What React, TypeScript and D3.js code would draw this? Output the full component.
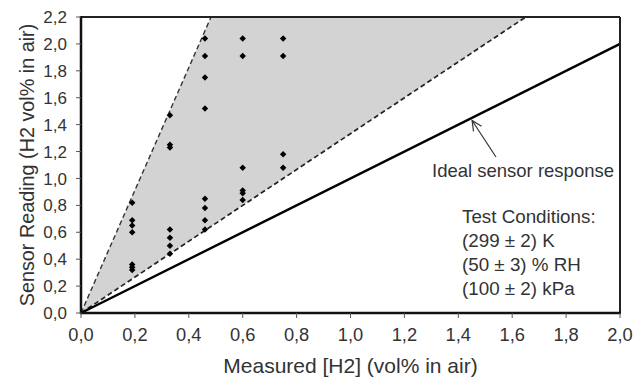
import React from "react";
import * as d3 from "d3";

const W = 635;
const H = 378;

const measured = [
  0.19, 0.19, 0.19, 0.19, 0.19, 0.19, 0.19,
  0.33, 0.33, 0.33, 0.33, 0.33, 0.33, 0.33,
  0.46, 0.46, 0.46, 0.46, 0.46, 0.46, 0.46, 0.46,
  0.6, 0.6, 0.6, 0.6, 0.6, 0.6,
  0.75, 0.75, 0.75, 0.75,
];
const reading = [
  0.82, 0.69, 0.65, 0.6, 0.36, 0.34, 0.32,
  1.47, 1.25, 1.23, 0.62, 0.56, 0.5, 0.44,
  2.04, 1.91, 1.75, 1.52, 0.85, 0.78, 0.69, 0.62,
  2.04, 1.91, 1.08, 0.91, 0.89, 0.84,
  2.04, 1.91, 1.18, 1.08,
];
const upperSlope = 4.56;
const lowerSlope = 1.333;
const idealLine = [
  [0, 0],
  [2, 2],
];
const xTicks = [0, 0.2, 0.4, 0.6, 0.8, 1.0, 1.2, 1.4, 1.6, 1.8, 2.0];
const yTicks = [0, 0.2, 0.4, 0.6, 0.8, 1.0, 1.2, 1.4, 1.6, 1.8, 2.0, 2.2];
const conditions = ["Test Conditions:", "(299 \u00b1 2) K", "(50 \u00b1 3) % RH", "(100 \u00b1 2) kPa"];

const FONT = "'Liberation Sans', Arial, sans-serif";
const TXT = "#333";

export default function App() {
  const x = d3.scaleLinear().domain([0, 2]).range([81, 620]);
  const y = d3.scaleLinear().domain([0, 2.2]).range([313, 17]);
  const fmt = (v: number) => d3.format(".1f")(v).replace(".", ",");
  const yMax = 2.2;
  const region: [number, number][] = [
    [0, 0],
    [yMax / upperSlope, yMax],
    [yMax / lowerSlope, yMax],
  ];
  const line = d3
    .line<number[]>()
    .x((d) => x(d[0]))
    .y((d) => y(d[1]));
  const diamond = d3.symbol().type(d3.symbolSquare).size(21)();

  // arrow annotation
  const tip: [number, number] = [x(1.453) - 0.5, y(1.453) + 3];
  const tail: [number, number] = [496, 157];
  const ang = Math.atan2(tail[1] - tip[1], tail[0] - tip[0]);
  const ah = 11;
  const spread = 0.45;
  const w1 = [tip[0] + ah * Math.cos(ang + spread), tip[1] + ah * Math.sin(ang + spread)];
  const w2 = [tip[0] + ah * Math.cos(ang - spread), tip[1] + ah * Math.sin(ang - spread)];

  return (
    <svg
      width={W}
      height={H}
      style={{ position: "absolute", left: 0, top: 0, background: "#fff" }}
      fontFamily={FONT}
    >
      <rect x={0} y={0} width={W} height={H} fill="#fff" />
      <path d={(line(region as any) ?? "") + "Z"} fill="#d3d3d3" stroke="none" />
      <path
        d={line([[0, 0], [yMax / upperSlope, yMax]]) ?? ""}
        stroke="#333"
        strokeWidth={1.4}
        strokeDasharray="5,3"
        fill="none"
      />
      <path
        d={line([[0, 0], [yMax / lowerSlope, yMax]]) ?? ""}
        stroke="#222"
        strokeWidth={1.7}
        strokeDasharray="5,3"
        fill="none"
      />
      <path d={line(idealLine) ?? ""} stroke="#000" strokeWidth={2.4} fill="none" />

      {measured.map((m, i) => (
        <path
          key={i}
          d={diamond ?? ""}
          transform={`translate(${x(m)},${y(reading[i])}) rotate(45)`}
          fill="#000"
        />
      ))}

      {/* frame */}
      <line x1={x(0)} x2={x(2)} y1={y(2.2)} y2={y(2.2)} stroke="#222" strokeWidth={2} />
      <line x1={x(2)} x2={x(2)} y1={y(2.2)} y2={y(0)} stroke="#222" strokeWidth={2} />
      <line x1={x(0)} x2={x(0)} y1={y(2.2) - 1} y2={y(0) + 1} stroke="#111" strokeWidth={2.5} />
      <line x1={x(0) - 1} x2={x(2) + 1} y1={y(0)} y2={y(0)} stroke="#111" strokeWidth={2.5} />

      {/* x ticks */}
      {xTicks.map((t) => (
        <g key={"x" + t}>
          <line x1={x(t)} x2={x(t)} y1={y(0)} y2={y(0) + 5} stroke="#555" strokeWidth={1} />
          <text x={x(t)} y={341} textAnchor="middle" fontSize={18.3} fill={TXT}>
            {fmt(t)}
          </text>
        </g>
      ))}
      {/* y ticks */}
      {yTicks.map((t) => (
        <g key={"y" + t}>
          <line x1={x(0) - 5} x2={x(0)} y1={y(t)} y2={y(t)} stroke="#555" strokeWidth={1} />
          <text x={67} y={y(t)} dy="0.36em" textAnchor="end" fontSize={17} fill={TXT}>
            {fmt(t)}
          </text>
        </g>
      ))}

      <text x={(x(0) + x(2)) / 2} y={373} textAnchor="middle" fontSize={21} fill={TXT}>
        Measured [H2] (vol% in air)
      </text>
      <text
        transform={`translate(34,${(y(0) + y(2.2)) / 2}) rotate(-90)`}
        textAnchor="middle"
        fontSize={19.8}
        fill={TXT}
      >
        Sensor Reading (H2 vol% in air)
      </text>

      {/* annotation */}
      <line x1={tail[0]} y1={tail[1]} x2={tip[0]} y2={tip[1]} stroke="#333" strokeWidth={1.2} />
      <polyline
        points={`${w1[0]},${w1[1]} ${tip[0]},${tip[1]} ${w2[0]},${w2[1]}`}
        stroke="#333"
        strokeWidth={1.2}
        fill="none"
      />
      <text x={432} y={177} fontSize={18.5} fill={TXT}>
        Ideal sensor response
      </text>

      {conditions.map((c, i) => (
        <text key={c} x={462} y={223 + i * 24} fontSize={18.8} fill={TXT}>
          {c}
        </text>
      ))}
    </svg>
  );
}
